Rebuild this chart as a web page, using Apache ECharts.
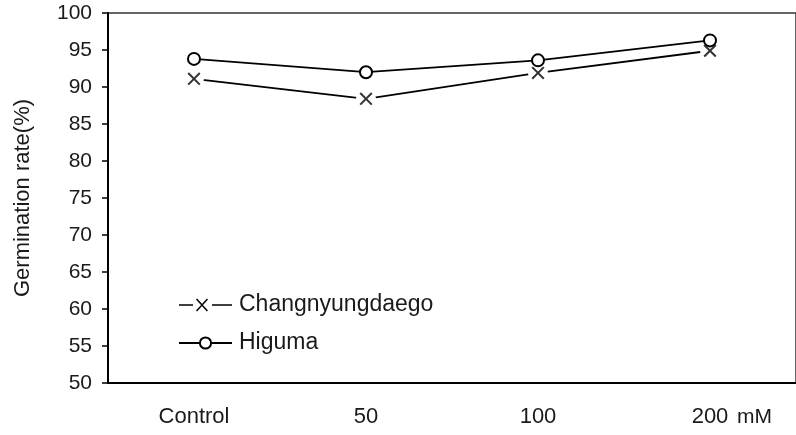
<!DOCTYPE html>
<html>
<head>
<meta charset="utf-8">
<script src="https://cdn.jsdelivr.net/npm/echarts@6/dist/echarts.min.js"></script>
<style>
  html, body { margin: 0; padding: 0; background: #fff; }
  #chart { width: 796px; height: 435px; }
</style>
</head>
<body>
<div id="chart"></div>
<script>
// NaCl concentration treatments
const categories = ['Control', '50', '100', '200'];
// Germination rate (%) per cultivar
const changnyungdaego = [91.1, 88.4, 91.9, 94.9];
const higuma = [93.8, 92.0, 93.6, 96.3];
// Y axis range
const yMin = 50, yMax = 100, yStep = 5;

const FONT = 'Liberation Sans';
const TEXT = '#1a1a1a';

// Cross marker drawn as two filled diagonal bars
const crossPath = 'path://M1.1 0L10 8.9L8.9 10L0 1.1Z M8.9 0L10 1.1L1.1 10L0 8.9Z';
// Legend icon: dash, cross, dash
const crossLegendPath = 'path://M0 6.2H14V7.8H0Z M33 6.2H53V7.8H33Z ' +
  'M18.1 0.5L29 12.4L27.9 13.5L17 1.6Z M27.9 0.5L29 1.6L18.1 13.5L17 12.4Z';

const chart = echarts.init(document.getElementById('chart'), null, { renderer: 'canvas' });
chart.setOption({
  animation: false,
  backgroundColor: '#fff',
  textStyle: { fontFamily: FONT, color: TEXT },
  grid: {
    left: 108, top: 13, width: 695, height: 370,
    show: true, borderColor: '#333', borderWidth: 1.5, backgroundColor: 'transparent'
  },
  legend: {
    orient: 'vertical',
    left: 173, top: 288,
    itemWidth: 53, itemHeight: 14, itemGap: 14,
    textStyle: { fontFamily: FONT, fontSize: 23, color: TEXT, lineHeight: 24, padding: [0, 0, 0, 2] },
    selectedMode: false,
    data: [
      { name: 'Changnyungdaego', icon: crossLegendPath, itemStyle: { color: '#000', borderWidth: 0 } },
      { name: 'Higuma' }
    ]
  },
  xAxis: {
    type: 'category',
    data: categories,
    boundaryGap: true,
    axisLine: { lineStyle: { color: '#000', width: 2 } },
    axisTick: { show: false },
    axisLabel: { margin: 23, fontFamily: FONT, fontSize: 22, color: TEXT },
    splitLine: { show: false }
  },
  yAxis: {
    type: 'value',
    min: yMin, max: yMax, interval: yStep,
    name: 'Germination rate(%)',
    nameLocation: 'middle',
    nameGap: 74,
    nameRotate: 90,
    nameTextStyle: { fontFamily: FONT, fontSize: 22, color: TEXT },
    axisLine: { show: true, lineStyle: { color: '#000', width: 2 } },
    axisTick: { show: true, length: 6, lineStyle: { color: '#000', width: 1.5 } },
    axisLabel: { margin: 16, fontFamily: FONT, fontSize: 21, color: TEXT },
    splitLine: { show: false }
  },
  graphic: [{
    type: 'text',
    left: 737, top: 407,
    style: { text: 'mM', fontFamily: FONT, fontSize: 21, fill: TEXT }
  }],
  series: [
    {
      // line with white clearings around each cross marker
      name: 'Changnyungdaego',
      type: 'line',
      data: changnyungdaego,
      z: 2,
      symbol: 'circle',
      symbolSize: 20,
      itemStyle: { color: '#fff', borderWidth: 0 },
      lineStyle: { color: '#000', width: 1.8 },
      emphasis: { disabled: true }
    },
    {
      name: 'Higuma',
      type: 'line',
      data: higuma,
      z: 3,
      symbol: 'circle',
      symbolSize: 12,
      itemStyle: { color: '#fff', borderColor: '#000', borderWidth: 2 },
      lineStyle: { color: '#000', width: 1.8 },
      emphasis: { disabled: true }
    },
    {
      name: 'Changnyungdaego marks',
      type: 'scatter',
      data: changnyungdaego,
      z: 4,
      symbol: crossPath,
      symbolSize: 13,
      itemStyle: { color: '#000', borderWidth: 0 },
      emphasis: { disabled: true }
    }
  ]
});
</script>
</body>
</html>
